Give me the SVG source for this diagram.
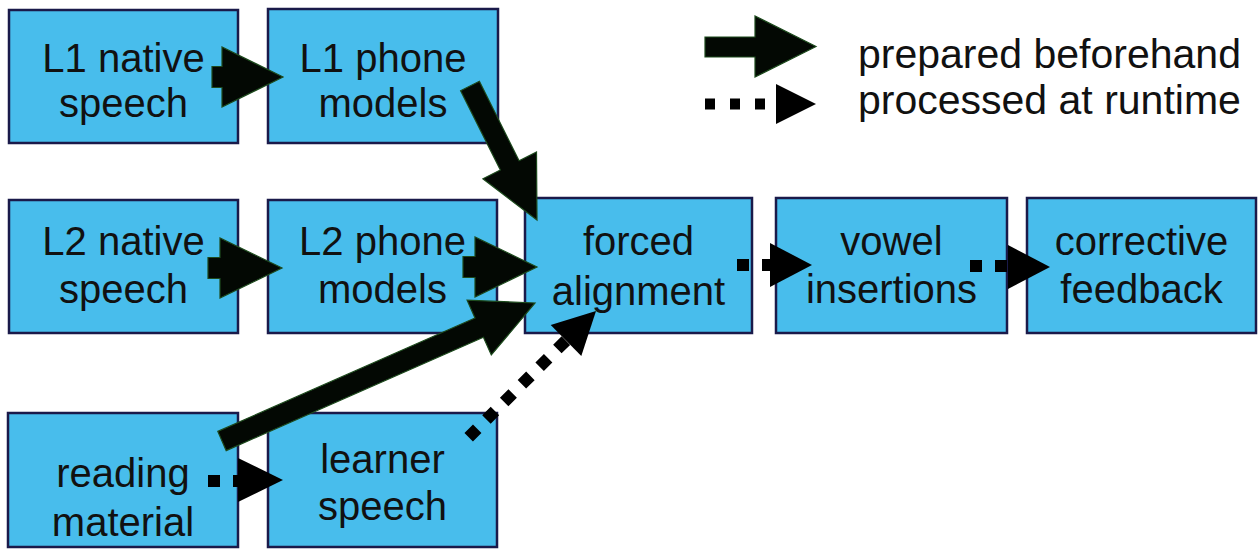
<svg xmlns="http://www.w3.org/2000/svg" width="1258" height="549" viewBox="0 0 1258 549">
  <style>
    .box { fill: #48bdec; stroke: #1a1a4a; stroke-width: 2.5; }
    .lbl { font-family: "Liberation Sans", Arial, sans-serif; font-size: 40px; fill: #111; text-anchor: middle; }
    .leg { font-family: "Liberation Sans", Arial, sans-serif; font-size: 41px; fill: #111; }
    .solid { fill: #030803; stroke: #1d4a1d; stroke-width: 1.2; stroke-linejoin: miter; }
    .dots { stroke: #000; stroke-width: 12; stroke-dasharray: 12 13; fill: none; }
    .dhead { fill: #000; }
  </style>

  <rect width="1258" height="549" fill="#fff"/>

  <!-- nodes -->
  <g id="l1-native-speech">
    <rect class="box" x="9" y="10" width="229" height="133"/>
    <text class="lbl" x="123.5" y="72">L1 native</text>
    <text class="lbl" x="123.5" y="117">speech</text>
  </g>
  <g id="l1-phone-models">
    <rect class="box" x="268" y="9" width="230" height="134"/>
    <text class="lbl" x="383" y="72">L1 phone</text>
    <text class="lbl" x="383" y="117">models</text>
  </g>
  <g id="l2-native-speech">
    <rect class="box" x="9" y="200" width="229" height="133"/>
    <text class="lbl" x="123.5" y="255">L2 native</text>
    <text class="lbl" x="123.5" y="303">speech</text>
  </g>
  <g id="l2-phone-models">
    <rect class="box" x="268" y="200" width="229" height="133"/>
    <text class="lbl" x="382.5" y="255">L2 phone</text>
    <text class="lbl" x="382.5" y="303">models</text>
  </g>
  <g id="forced-alignment">
    <rect class="box" x="525" y="198" width="227" height="135"/>
    <text class="lbl" x="638.5" y="255">forced</text>
    <text class="lbl" x="638.5" y="305">alignment</text>
  </g>
  <g id="vowel-insertions">
    <rect class="box" x="776" y="198" width="231" height="135"/>
    <text class="lbl" x="891.5" y="255">vowel</text>
    <text class="lbl" x="891.5" y="303">insertions</text>
  </g>
  <g id="corrective-feedback">
    <rect class="box" x="1027" y="198" width="229" height="135"/>
    <text class="lbl" x="1141.5" y="255">corrective</text>
    <text class="lbl" x="1141.5" y="303">feedback</text>
  </g>
  <g id="reading-material">
    <rect class="box" x="8" y="413" width="230" height="134"/>
    <text class="lbl" x="123" y="487">reading</text>
    <text class="lbl" x="123" y="536">material</text>
  </g>
  <g id="learner-speech">
    <rect class="box" x="268" y="413" width="229" height="134"/>
    <text class="lbl" x="382.5" y="473">learner</text>
    <text class="lbl" x="382.5" y="520">speech</text>
  </g>

  <!-- connectors -->
  <g id="connectors">
    <!-- prepared beforehand: block arrows -->
    <polygon class="solid" points="212,66.5 222,66.5 222,47 283,77 222,107 222,87.5 212,87.5"/>
    <polygon class="solid" points="208,257.5 220,257.5 220,238 282,268 220,298 220,278.5 208,278.5"/>
    <polygon class="solid" points="463,256.5 475,256.5 475,237 537,267 475,297 475,277.5 463,277.5"/>
    <polygon class="solid" points="479.4,81.3 519.1,160.7 536.5,152 537,220 482.9,178.8 500.3,170.1 460.6,90.7"/>
    <polygon class="solid" points="217.8,431.4 475,318 467.1,300.2 535,303 491.3,355 483.4,337.2 226.2,450.6"/>

    <!-- processed at runtime: dotted arrows -->
    <line class="dots" x1="208" y1="481" x2="244" y2="481"/>
    <polygon class="dhead" points="238,458 283,480 238,502"/>

    <line class="dots" x1="468.7" y1="437.2" x2="566" y2="340.5"/>
    <polygon class="dhead" points="550.7,325 596,311 581.3,356"/>

    <line class="dots" x1="737" y1="265" x2="774" y2="265"/>
    <polygon class="dhead" points="770,243 812,265 770,287"/>

    <line class="dots" x1="970" y1="266" x2="1008" y2="266"/>
    <polygon class="dhead" points="1008,245 1050,267 1008,289"/>
  </g>

  <!-- legend -->
  <g id="legend">
    <polygon class="solid" points="705,37 755,37 755,16 816,46.5 755,77 755,57 705,57"/>
    <line x1="705" y1="104" x2="765" y2="104" stroke="#000" stroke-width="11" stroke-dasharray="10 15"/>
    <polygon class="dhead" points="776,84 816,104 776,124"/>
    <text class="leg" x="858" y="68">prepared beforehand</text>
    <text class="leg" x="858" y="114">processed at runtime</text>
  </g>
</svg>
